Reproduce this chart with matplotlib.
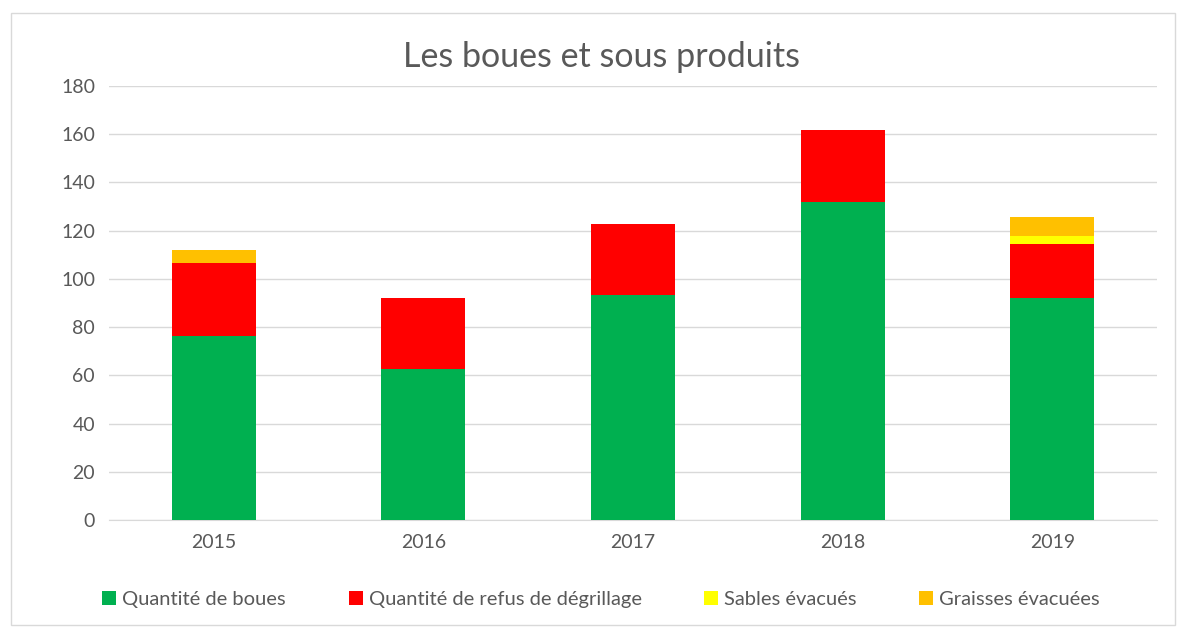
import matplotlib.pyplot as plt
import numpy as np
from matplotlib.patches import Rectangle

plt.rcParams['font.family'] = ['Lato', 'DejaVu Sans']

annees = ['2015', '2016', '2017', '2018', '2019']
boues = [76.5, 62.5, 93.2, 131.8, 92.0]
refus = [30.0, 29.6, 29.5, 30.0, 22.5]
sables = [0.0, 0.0, 0.0, 0.0, 3.3]
graisses = [5.3, 0.0, 0.0, 0.0, 7.8]

series = [
    ('Quantité de boues', boues, '#00b050'),
    ('Quantité de refus de dégrillage', refus, '#ff0000'),
    ('Sables évacués', sables, '#ffff00'),
    ('Graisses évacuées', graisses, '#ffc000'),
]

fig = plt.figure(figsize=(11.81, 6.28), dpi=100)
fig.patches.append(Rectangle((0.009, 0.005), 0.986, 0.975, transform=fig.transFigure,
                             fill=False, edgecolor='#d9d9d9', linewidth=1))
ax = fig.add_axes([0.0923, 0.172, 0.8874, 0.691])

x = np.arange(len(annees))
bottom = np.zeros(len(annees))
handles = []
for nom, vals, couleur in series:
    b = ax.bar(x, vals, 0.4, bottom=bottom, color=couleur, label=nom, zorder=3)
    bottom += np.array(vals)
    handles.append(b)

ax.set_xlim(-0.5, 4.5)
ax.set_ylim(0, 180)
ax.set_yticks(range(0, 181, 20))
ax.set_xticks(x)
ax.set_xticklabels(annees)
ax.grid(axis='y', color='#d9d9d9', linewidth=1, zorder=0)
for s in ['top', 'right', 'left']:
    ax.spines[s].set_visible(False)
ax.spines['bottom'].set_color('#d9d9d9')
ax.tick_params(length=0, labelsize=14, colors='#595959', pad=10)

fig.text(0.509, 0.91, 'Les boues et sous produits', ha='center', va='center',
         fontsize=24.5, color='#595959')

fig.legend(handles=handles, loc='center', bbox_to_anchor=(0.509, 0.046), ncol=4,
           frameon=False, fontsize=14.5, labelcolor='#595959', handlelength=0.7,
           handleheight=0.7, handletextpad=0.3, columnspacing=3.1)

fig.savefig('out.png', dpi=100)
